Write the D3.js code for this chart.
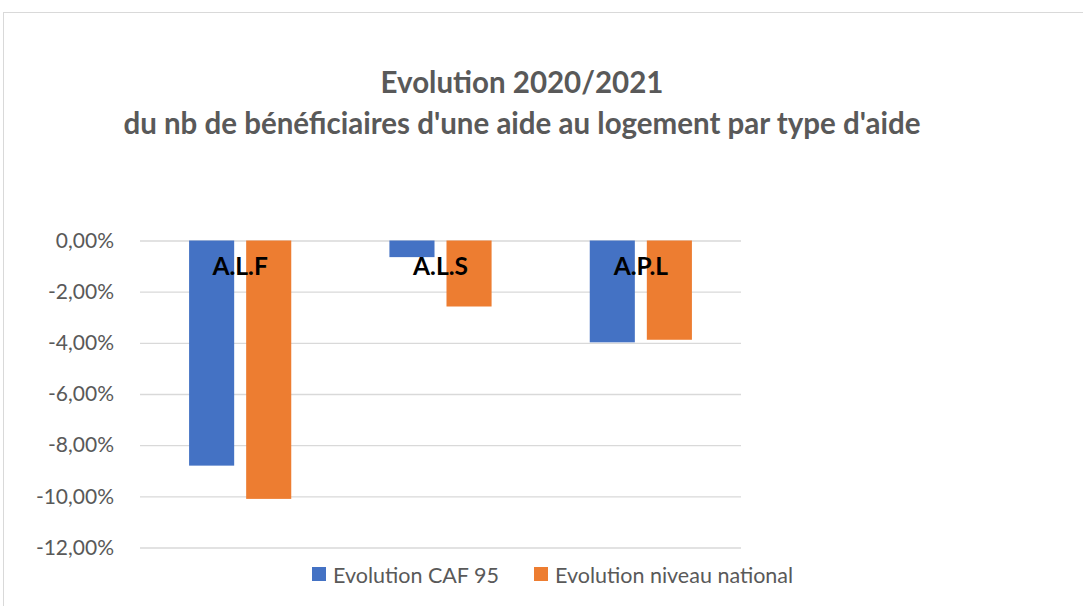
<!DOCTYPE html>
<html>
<head>
<meta charset="utf-8">
<script src="https://cdn.jsdelivr.net/npm/d3@7"></script>
<style>
  body { margin: 0; background: #fff; }
  svg { display: block; font-family: Lato, "Open Sans", sans-serif; }
</style>
</head>
<body>
<svg width="1083" height="606"></svg>
<script>
// data
var categories = ["A.L.F", "A.L.S", "A.P.L"];
var seriesNames = ["Evolution CAF 95", "Evolution niveau national"];
var caf95 = [-0.088, -0.0065, -0.0398];
var national = [-0.101, -0.0258, -0.0388];
var yTicks = [0, -0.02, -0.04, -0.06, -0.08, -0.10, -0.12];
var colors = ["#4472C4", "#ED7D31"];

var svg = d3.select("svg");

// chart area border (cut off at right/bottom like the original)
svg.append("rect")
    .attr("x", 3.5).attr("y", 12.5)
    .attr("width", 1100).attr("height", 620)
    .attr("fill", "none").attr("stroke", "#d9d9d9");

// title
var title = svg.append("text")
    .attr("text-anchor", "middle")
    .attr("fill", "#595959")
    .attr("font-weight", "bold")
    .attr("font-size", 29.5);
title.append("tspan").attr("x", 522).attr("y", 93).text("Evolution 2020/2021");
title.append("tspan").attr("x", 522).attr("y", 134).text("du nb de bénéficiaires d'une aide au logement par type d'aide");

var y = d3.scaleLinear().domain([-0.12, 0]).range([547.5, 240.5]);
var x0 = d3.scaleBand().domain(categories).range([140, 741])
    .paddingInner(0.49).paddingOuter(0.245);
var x1 = d3.scaleBand().domain([0, 1]).range([0, x0.bandwidth()]).paddingInner(0.21);

// french style, plain hyphen for the minus sign
var fmt = function(d) {
    var s = Math.abs(d * 100).toFixed(2).replace(".", ",") + "%";
    return d < 0 ? "-" + s : s;
};

// gridlines + labels via axis
var yAxis = svg.append("g")
    .attr("transform", "translate(140,0)")
    .call(d3.axisLeft(y).tickValues(yTicks).tickFormat(fmt).tickSize(-601).tickPadding(26));
yAxis.select(".domain").remove();
yAxis.selectAll(".tick line").attr("stroke", "#d9d9d9").attr("stroke-width", 1.3);
yAxis.selectAll(".tick text")
    .attr("fill", "#595959")
    .attr("font-size", 21)
    .attr("font-family", "Lato, 'Open Sans', sans-serif");

// bars
var data = categories.map(function(c, i) { return { cat: c, vals: [caf95[i], national[i]] }; });

var groups = svg.selectAll("g.grp")
    .data(data)
    .enter().append("g")
    .attr("class", "grp")
    .attr("transform", function(d) { return "translate(" + x0(d.cat) + ",0)"; });

groups.selectAll("rect")
    .data(function(d) { return d.vals; })
    .enter().append("rect")
    .attr("x", function(d, i) { return x1(i); })
    .attr("width", x1.bandwidth())
    .attr("y", y(0))
    .attr("height", function(d) { return y(d) - y(0); })
    .attr("fill", function(d, i) { return colors[i]; });

// category labels sit inside the plot near the zero line
svg.selectAll("text.cat")
    .data(categories)
    .enter().append("text")
    .attr("class", "cat")
    .attr("x", function(d) { return x0(d) + x0.bandwidth() / 2; })
    .attr("y", 275)
    .attr("text-anchor", "middle")
    .attr("font-weight", "bold")
    .attr("font-size", 24.5)
    .attr("fill", "#000")
    .text(function(d) { return d; });

// legend
var legendX = [312, 534];
var legend = svg.selectAll("g.leg")
    .data(seriesNames)
    .enter().append("g")
    .attr("class", "leg")
    .attr("transform", function(d, i) { return "translate(" + legendX[i] + ",567)"; });
legend.append("rect").attr("width", 14).attr("height", 14)
    .attr("fill", function(d, i) { return colors[i]; });
legend.append("text")
    .attr("x", 21).attr("y", 15.5)
    .attr("font-size", 21.5)
    .attr("fill", "#595959")
    .text(function(d) { return d; });
</script>
</body>
</html>
